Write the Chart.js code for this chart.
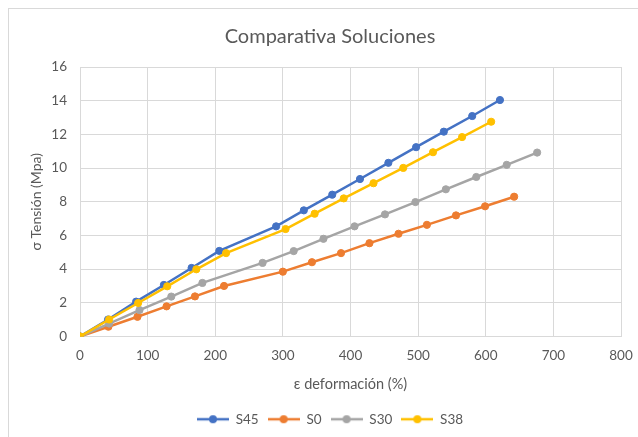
<!DOCTYPE html>
<html>
<head>
<meta charset="utf-8">
<script src="https://cdn.jsdelivr.net/npm/chart.js@4.4.1/dist/chart.umd.min.js"></script>
<style>
  html, body { margin: 0; padding: 0; background: #ffffff; overflow: hidden; }
  #wrap { position: relative; width: 660px; height: 437px; }
</style>
</head>
<body>
<div id="wrap"><canvas id="c" width="660" height="437"></canvas></div>
<script>
// Strain (%) and stress (MPa) readings for each solution
const s45Strain = [0, 41.5, 83, 124, 165, 206, 290, 331, 373, 414, 456, 497, 538, 580, 621];
const s45Stress = [0, 1.01, 2.07, 3.06, 4.07, 5.08, 6.54, 7.49, 8.42, 9.35, 10.31, 11.24, 12.16, 13.09, 14.04];

const s0Strain = [0, 42, 85, 128, 170, 213, 300, 343, 386, 428, 471, 513, 556, 599, 642];
const s0Stress = [0, 0.58, 1.17, 1.79, 2.38, 3.00, 3.85, 4.41, 4.95, 5.54, 6.10, 6.63, 7.19, 7.73, 8.30];

const s30Strain = [0, 43, 88, 135, 181, 270, 316, 360, 406, 451, 496, 541, 586, 631, 676];
const s30Stress = [0, 0.77, 1.57, 2.37, 3.18, 4.37, 5.07, 5.80, 6.54, 7.25, 7.98, 8.74, 9.47, 10.19, 10.92];

const s38Strain = [0, 43, 86, 129, 172, 216, 304, 347, 390, 434, 478, 522, 565, 608];
const s38Stress = [0, 1.01, 1.99, 2.98, 3.99, 4.95, 6.38, 7.29, 8.20, 9.10, 10.01, 10.94, 11.84, 12.75];

const seriesNames = ['S45', 'S0', 'S30', 'S38'];
const seriesColors = ['#4472C4', '#ED7D31', '#A5A5A5', '#FFC000'];

const xTickMax = 800;
const xTickStep = 100;
const yTickMax = 16;
const yTickStep = 2;

const FONT = "Lato, 'Open Sans', 'Noto Sans', sans-serif";
const TEXT = '#595959';
const GRID = '#D9D9D9';

function pairs(xs, ys) {
  return xs.map((x, i) => ({ x: x, y: ys[i] }));
}

const seriesData = [
  pairs(s45Strain, s45Stress),
  pairs(s0Strain, s0Stress),
  pairs(s30Strain, s30Stress),
  pairs(s38Strain, s38Stress)
];

// Legend swatch: a short line with a round marker in the middle
function legendSwatch(color) {
  const cv = document.createElement('canvas');
  cv.width = 32; cv.height = 10;
  const g = cv.getContext('2d');
  g.strokeStyle = color;
  g.lineWidth = 2.5;
  g.beginPath(); g.moveTo(0, 5); g.lineTo(32, 5); g.stroke();
  g.fillStyle = color;
  g.beginPath(); g.arc(16, 5, 4, 0, Math.PI * 2); g.fill();
  return cv;
}
const swatches = seriesColors.map(legendSwatch);

// Thin frame around the whole chart
const framePlugin = {
  id: 'frame',
  beforeDraw(chart) {
    const ctx = chart.ctx;
    ctx.save();
    ctx.strokeStyle = GRID;
    ctx.lineWidth = 1;
    ctx.strokeRect(8.5, 8.5, 643, 440);
    ctx.restore();
  }
};

const datasets = seriesNames.map((name, i) => ({
  label: name,
  data: seriesData[i],
  borderColor: seriesColors[i],
  backgroundColor: seriesColors[i],
  pointBackgroundColor: seriesColors[i],
  pointBorderColor: seriesColors[i],
  borderWidth: 2.5,
  pointRadius: 3.6,
  pointBorderWidth: 1,
  pointHoverRadius: 3.6,
  showLine: true,
  fill: false,
  tension: 0,
  order: seriesNames.length - i
}));

new Chart(document.getElementById('c'), {
  type: 'scatter',
  data: { datasets: datasets },
  plugins: [framePlugin],
  options: {
    responsive: false,
    animation: false,
    devicePixelRatio: 1,
    layout: { padding: { left: 0, right: 0, top: 0, bottom: 1 } },
    plugins: {
      tooltip: { enabled: false },
      title: {
        display: true,
        text: 'Comparativa Soluciones',
        color: TEXT,
        font: { family: FONT, size: 20, weight: 'normal' },
        padding: { top: 25, bottom: 18 }
      },
      legend: {
        display: true,
        position: 'bottom',
        labels: {
          color: TEXT,
          font: { family: FONT, size: 13.5 },
          usePointStyle: true,
          pointStyleWidth: 32,
          padding: 9,
          generateLabels(chart) {
            return seriesNames.map((name, i) => ({
              text: name,
              datasetIndex: i,
              fillStyle: seriesColors[i],
              strokeStyle: seriesColors[i],
              fontColor: TEXT,
              lineWidth: 0,
              pointStyle: swatches[i],
              hidden: false
            }));
          }
        }
      }
    },
    scales: {
      x: {
        type: 'linear',
        position: 'bottom',
        min: 0,
        max: xTickMax,
        afterFit(scale) { scale.height = 67; },
        grid: { color: GRID, lineWidth: 1, drawTicks: false },
        border: { color: GRID, width: 1 },
        ticks: {
          stepSize: xTickStep,
          color: TEXT,
          padding: 11,
          font: { family: FONT, size: 13.5 }
        },
        title: {
          display: true,
          text: 'ε deformación (%)',
          color: TEXT,
          font: { family: FONT, size: 14.5 },
          padding: { top: 0, bottom: 10.5 }
        }
      },
      y: {
        type: 'linear',
        position: 'left',
        min: 0,
        max: yTickMax,
        afterFit(scale) { scale.width = 80; },
        grid: { color: GRID, lineWidth: 1, drawTicks: false },
        border: { color: GRID, width: 1 },
        ticks: {
          stepSize: yTickStep,
          color: TEXT,
          padding: 13,
          font: { family: FONT, size: 13.5 }
        },
        title: {
          display: true,
          text: 'σ Tensión (Mpa)',
          color: TEXT,
          font: { family: FONT, size: 14 },
          padding: { top: 28.5, bottom: 0 }
        }
      },
      // empty right-hand margin so the plot ends at 800 while title and legend stay centred
      yRight: {
        type: 'linear',
        position: 'right',
        display: true,
        afterFit(scale) { scale.width = 39; },
        grid: { display: false, drawTicks: false },
        border: { display: false },
        ticks: { display: false },
        title: { display: false }
      }
    }
  }
});
</script>
</body>
</html>
